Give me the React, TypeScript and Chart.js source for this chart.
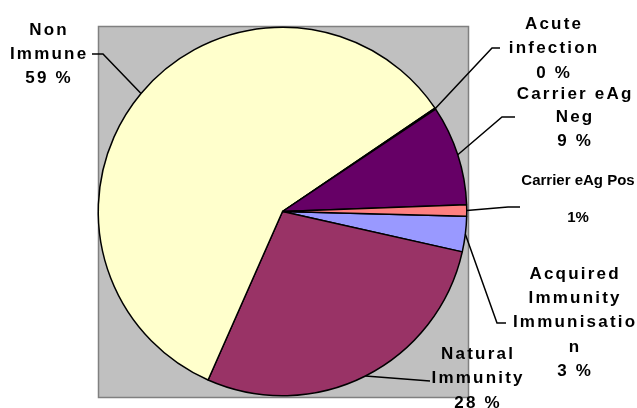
import React, { useEffect, useRef } from 'react';
import { Chart, registerables } from 'chart.js';

Chart.register(...registerables);

// ---- data ----
const categories = [
  'Acquired Immunity Immunisation',
  'Natural Immunity',
  'Non Immune',
  'Acute infection',
  'Carrier eAg Neg',
  'Carrier eAg Pos',
];
const values = [3.1, 28.1, 58.9, 0.1, 8.8, 1.0];
const percentLabels = ['3 %', '28 %', '59 %', '0 %', '9 %', '1%'];
const labelLines = [
  ['Acquired', 'Immunity', 'Immunisatio', 'n'],
  ['Natural', 'Immunity'],
  ['Non', 'Immune'],
  ['Acute', 'infection'],
  ['Carrier eAg', 'Neg'],
  ['Carrier eAg Pos', ''],
];
const colors = ['#9999FF', '#993366', '#FFFFCC', '#CCFFFF', '#660066', '#FF8080'];

// ---- label layout (positions only) ----
const labelLayout = [
  { cx: 574, y0: 274, dy: 24.3, spaced: true, elbow: [497, 323], end: [506, 323] },
  { cx: 477, y0: 354, dy: 24.5, spaced: true, elbow: [430, 381], end: [430, 381] },
  { cx: 48, y0: 30, dy: 24, spaced: true, elbow: [103, 54], end: [92, 54] },
  { cx: 553, y0: 24, dy: 24.5, spaced: true, elbow: [492, 48], end: [500, 48] },
  { cx: 574, y0: 94, dy: 23.5, spaced: true, elbow: [502, 117], end: [515, 117] },
  { cx: 578, y0: 181, dy: 18.5, spaced: false, elbow: [508, 207], end: [520, 207] },
];

const FONT = '"Liberation Sans", Arial, sans-serif';

const plotBg = {
  id: 'plotBg',
  beforeDraw(chart: any) {
    const { ctx, chartArea: ca } = chart;
    const x = Math.round(ca.left + 0.5);
    const y = Math.round(ca.top - 0.5);
    const w = Math.round(ca.right + 0.5) - x;
    const h = Math.round(ca.bottom + 0.5) - y;
    ctx.save();
    ctx.fillStyle = '#C0C0C0';
    ctx.fillRect(x, y, w, h);
    ctx.strokeStyle = '#808080';
    ctx.lineWidth = 1.5;
    ctx.strokeRect(x + 0.5, y + 0.5, w, h);
    ctx.restore();
  },
};

const pieLabels = {
  id: 'pieLabels',
  afterDraw(chart: any) {
    const { ctx } = chart;
    const meta = chart.getDatasetMeta(0);
    ctx.save();
    meta.data.forEach((arc: any, i: number) => {
      const L = labelLayout[i];
      const mid = (arc.startAngle + arc.endAngle) / 2;
      const sx = arc.x + Math.cos(mid) * arc.outerRadius;
      const sy = arc.y + Math.sin(mid) * arc.outerRadius;
      ctx.strokeStyle = '#000';
      ctx.lineWidth = 1.5;
      ctx.beginPath();
      ctx.moveTo(sx, sy);
      ctx.lineTo(L.elbow[0], L.elbow[1]);
      ctx.lineTo(L.end[0], L.end[1]);
      ctx.stroke();

      const lines = [...labelLines[i], percentLabels[i]];
      ctx.fillStyle = '#000';
      ctx.font = L.spaced ? `bold 17px ${FONT}` : `bold 15px ${FONT}`;
      ctx.textAlign = 'center';
      ctx.textBaseline = 'middle';
      const ls = L.spaced ? 2.2 : 0;
      (ctx as any).letterSpacing = `${ls}px`;
      lines.forEach((t, j) => {
        if (!t) return;
        ctx.fillText(t, L.cx + ls / 2, L.y0 + j * L.dy);
      });
      (ctx as any).letterSpacing = '0px';
    });
    ctx.restore();
  },
};

export default function App() {
  const ref = useRef<HTMLCanvasElement>(null);
  useEffect(() => {
    if (!ref.current) return;
    const chart = new Chart(ref.current, {
      type: 'pie',
      data: {
        labels: categories,
        datasets: [
          {
            data: values,
            backgroundColor: colors,
            borderColor: '#000000',
            borderWidth: 1.5,
            hoverOffset: 0,
            offset: 0,
          },
        ],
      },
      options: {
        responsive: false,
        animation: false,
        devicePixelRatio: 1,
        rotation: 91.5,
        layout: { padding: { left: 97.5, right: 169.5, top: 26.5, bottom: 11.5 } },
        plugins: {
          legend: { display: false },
          tooltip: { enabled: false },
        },
        events: [],
      },
      plugins: [plotBg, pieLabels],
    });
    return () => chart.destroy();
  }, []);
  return (
    <div style={{ position: 'absolute', left: 0, top: 0, width: 637, height: 408, background: '#fff' }}>
      <canvas ref={ref} width={637} height={408} style={{ display: 'block' }} />
    </div>
  );
}
